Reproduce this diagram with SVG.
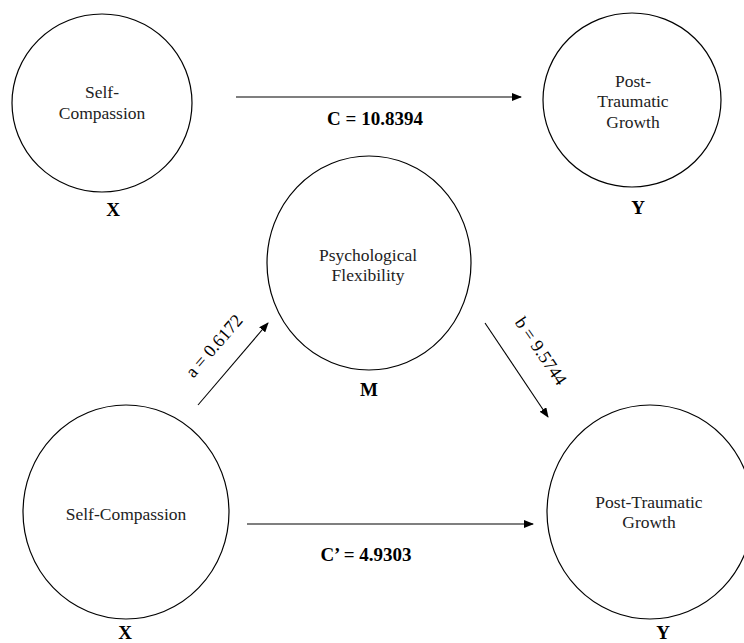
<svg xmlns="http://www.w3.org/2000/svg" width="744" height="643" viewBox="0 0 744 643">
<style>
.node{fill:#fff;stroke:#000;stroke-width:1.2}
.t{font-family:"Liberation Serif","Times New Roman","DejaVu Serif",serif;font-size:17.5px;font-weight:normal;fill:#222;text-anchor:middle}
.lbl{font-family:"Liberation Serif","Times New Roman","DejaVu Serif",serif;font-size:19px;font-weight:bold;fill:#000;text-anchor:middle}
.rl{font-family:"Liberation Serif","Times New Roman","DejaVu Serif",serif;font-size:18px;font-weight:normal;fill:#000;text-anchor:middle;dominant-baseline:central}
.edge{stroke:#000;stroke-width:1.1;fill:none;marker-end:url(#ah)}
</style>
<defs>
<marker id="ah" markerWidth="10" markerHeight="8" refX="9" refY="4" orient="auto" markerUnits="userSpaceOnUse">
<path d="M0,0 L10,4 L0,8 Z" fill="#000"/>
</marker>
</defs>
<rect width="744" height="643" fill="#fff"/>
<g id="connectors">
<line class="edge" x1="236" y1="97" x2="521" y2="97"/>
<line class="edge" x1="198" y1="405" x2="268" y2="323"/>
<line class="edge" x1="485" y1="323" x2="548" y2="417"/>
<line class="edge" x1="247" y1="524" x2="533" y2="524"/>
<text class="lbl" x="375" y="125">C = 10.8394</text>
<text class="lbl" x="366" y="561">C’ = 4.9303</text>
<text class="rl" transform="translate(214,346) rotate(-49)">a = 0.6172</text>
<text class="rl" transform="translate(541,351) rotate(56)">b = 9.5744</text>
</g>
<g id="node-x-top">
<ellipse class="node" cx="102" cy="103" rx="90" ry="89"/>
<text class="t" x="102" y="98">Self-</text>
<text class="t" x="102" y="119">Compassion</text>
<text class="lbl" x="113" y="216">X</text>
</g>
<g id="node-y-top">
<ellipse class="node" cx="632" cy="100" rx="89" ry="87"/>
<text class="t" x="633" y="87">Post-</text>
<text class="t" x="633" y="107">Traumatic</text>
<text class="t" x="633" y="128">Growth</text>
<text class="lbl" x="638" y="214">Y</text>
</g>
<g id="node-m">
<ellipse class="node" cx="369" cy="263" rx="102" ry="107"/>
<text class="t" x="368" y="261">Psychological</text>
<text class="t" x="368" y="281">Flexibility</text>
<text class="lbl" x="369" y="396">M</text>
</g>
<g id="node-x-bottom">
<ellipse class="node" cx="126" cy="512" rx="103" ry="107"/>
<text class="t" x="126" y="520">Self-Compassion</text>
<text class="lbl" x="125" y="639">X</text>
</g>
<g id="node-y-bottom">
<ellipse class="node" cx="650" cy="512" rx="103" ry="107"/>
<text class="t" x="649" y="508">Post-Traumatic</text>
<text class="t" x="649" y="528">Growth</text>
<text class="lbl" x="663" y="639">Y</text>
</g>
</svg>
